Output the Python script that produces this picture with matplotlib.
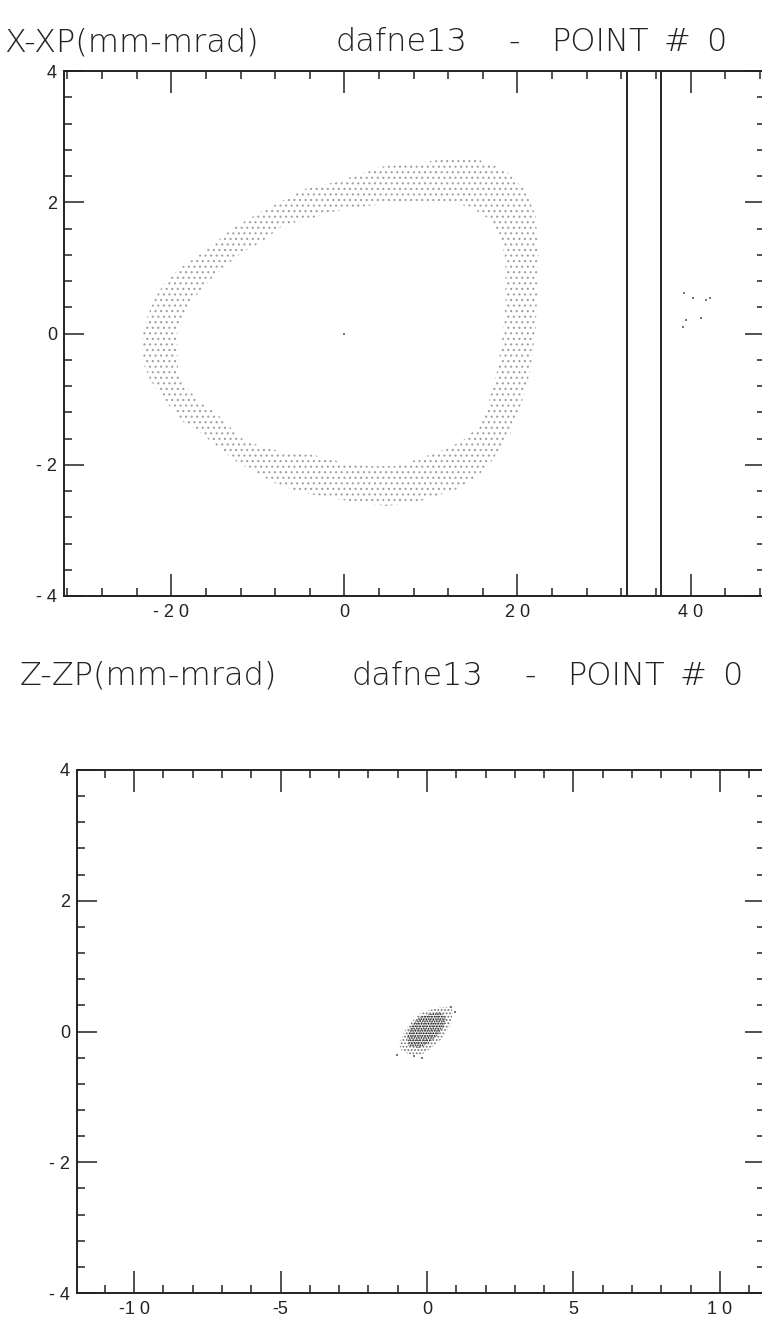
import matplotlib
matplotlib.use("Agg")
import matplotlib.pyplot as plt
from matplotlib.path import Path
from matplotlib.patches import PathPatch
from matplotlib.ticker import MultipleLocator

# ---- X-XP phase space: outer and inner edge of the tracked ring (mm, mrad) ----
ring_outer_x = [-23.35, -22.77, -21.85, -20.92, -18.96, -16.3, -12.83, -9.71, -7.63, -4.28,
                -1.62, 1.5, 4.16, 6.82, 9.02, 12.25, 15.72, 18.61, 20.92, 22.08,
                22.43, 22.31, 22.08, 21.5, 20.69, 19.19, 18.03, 16.88, 15.38, 12.83,
                9.13, 4.97, -0.12, -5.09, -8.21, -12.37, -14.68, -16.99, -18.96, -20.92,
                -22.43, -23.24]
ring_outer_xp = [0.05, 0.25, 0.55, 0.74, 1.0, 1.24, 1.61, 1.85, 1.99, 2.22,
                 2.29, 2.41, 2.54, 2.58, 2.61, 2.67, 2.64, 2.49, 2.18, 1.8,
                 1.27, 0.66, 0.05, -0.56, -0.97, -1.52, -1.75, -1.97, -2.18, -2.38,
                 -2.54, -2.63, -2.54, -2.42, -2.27, -1.96, -1.73, -1.47, -1.32, -0.98,
                 -0.71, -0.45]
ring_inner_x = [-19.31, -18.15, -16.65, -14.68, -13.18, -11.68, -9.71, -7.05, -3.58, -1.62,
                1.85, 5.32, 9.13, 12.25, 14.57, 16.88, 18.03, 18.61, 18.61, 18.38,
                18.03, 17.69, 16.88, 16.53, 15.38, 13.76, 11.91, 8.79, 6.13, 3.01,
                -0.12, -3.58, -6.59, -9.36, -11.68, -13.18, -15.14, -16.65, -18.96, -19.31]
ring_inner_xp = [0.05, 0.39, 0.66, 0.92, 1.09, 1.25, 1.38, 1.65, 1.76, 1.85,
                 1.93, 1.99, 2.0, 1.99, 1.93, 1.73, 1.5, 1.12, 0.51, 0.05,
                 -0.25, -0.56, -0.91, -1.17, -1.43, -1.62, -1.75, -1.9, -2.02, -2.02,
                 -1.97, -1.85, -1.82, -1.73, -1.62, -1.43, -1.17, -1.06, -0.71, -0.45]
# isolated particles (beyond the septum and the reference particle)
stray_x = [39.2, 40.3, 41.8, 42.3, 39.5, 41.2, 39.1, 0.0]
stray_xp = [0.62, 0.54, 0.51, 0.54, 0.20, 0.24, 0.10, 0.0]
septum_x = [32.7, 36.6]

# ---- Z-ZP phase space: beam outline and dense core (mm, mrad) ----
z_halo_z = [-0.95, -0.75, -0.55, -0.25, 0.10, 0.45, 0.80, 0.88, 0.82, 0.70,
            0.48, 0.12, -0.18, -0.62, -0.90]
z_halo_zp = [-0.18, 0.02, 0.14, 0.27, 0.33, 0.37, 0.38, 0.30, 0.12, 0.02,
             -0.12, -0.26, -0.35, -0.35, -0.27]
z_core_z = [-0.68, -0.55, -0.26, 0.10, 0.46, 0.64, 0.58, 0.35, 0.05, -0.26, -0.62]
z_core_zp = [-0.06, 0.08, 0.22, 0.27, 0.30, 0.21, 0.07, -0.06, -0.18, -0.25, -0.23]
z_out_z = [-1.03, 0.83, -0.18, 0.95, -0.45]
z_out_zp = [-0.36, 0.37, -0.40, 0.30, -0.38]

# ---- axes text ----
x_ticks_top = [-20, 0, 20, 40]
x_labels_top = ["- 2 0", "0", "2 0", "4 0"]
x_ticks_bot = [-10, -5, 0, 5, 10]
x_labels_bot = ["-1 0", "-5", "0", "5", "1 0"]
y_ticks = [-4, -2, 0, 2, 4]
y_labels = ["- 4", "- 2", "0", "2", "4"]
title_words_x = ["X-XP(mm-mrad)", "dafne13", "-", "POINT", "#", "0"]
title_words_z = ["Z-ZP(mm-mrad)", "dafne13", "-", "POINT", "#", "0"]
title_pos = [4, 335, 508, 551, 663, 706]   # left edge of each word, px

W, H = 762, 1322
plt.rcParams["hatch.linewidth"] = 0.8
fig = plt.figure(figsize=(W / 100, H / 100), dpi=100)


def band_path(ox, oy, ix=None, iy=None):
    verts = list(zip(ox, oy)) + [(ox[0], oy[0])]
    codes = [Path.MOVETO] + [Path.LINETO] * (len(ox) - 1) + [Path.CLOSEPOLY]
    if ix is not None:
        inner = list(zip(ix[::-1], iy[::-1]))
        verts += inner + [inner[0]]
        codes += [Path.MOVETO] + [Path.LINETO] * (len(inner) - 1) + [Path.CLOSEPOLY]
    return Path(verts, codes)


def style_axes(ax, xminor, xticks, xlabels):
    for sp in ax.spines.values():
        sp.set_linewidth(1.4)
        sp.set_color("#222222")
    ax.set_ylim(-4, 4)
    ax.set_xticks(xticks, labels=xlabels)
    ax.set_yticks(y_ticks, labels=y_labels)
    ax.xaxis.set_minor_locator(MultipleLocator(xminor))
    ax.yaxis.set_minor_locator(MultipleLocator(0.4))
    ax.tick_params(which="both", direction="in", top=True, right=True,
                   width=1.1, color="#222222", labelsize=13)
    ax.tick_params(axis="x", which="major", length=16, pad=6)
    ax.tick_params(axis="y", which="major", length=14.5, pad=5)
    ax.tick_params(which="minor", length=6)
    for lab in ax.get_xticklabels() + ax.get_yticklabels():
        lab.set_fontfamily("Liberation Sans")
        lab.set_color("#222222")


def put_title(words, dx, base_px):
    for w, px in zip(words, title_pos):
        fig.text((px + dx) / W, 1 - base_px / H, w, fontsize=23, fontweight="light",
                 family="DejaVu Sans", color="#222222", ha="left", va="baseline")


# ---- top panel: X-XP ----
ax1 = fig.add_axes([64 / W, 1 - 596 / H, 701 / W, 525 / H])
ax1.set_xlim(-32.4, 48.6)
ring = PathPatch(band_path(ring_outer_x, ring_outer_xp, ring_inner_x, ring_inner_xp),
                 facecolor="none", edgecolor="#a0a0a0", lw=0, hatch="...")
ax1.add_patch(ring)
ax1.scatter(stray_x, stray_xp, s=1.5, marker="s", color="#777777", lw=0)
for xs in septum_x:
    ax1.axvline(xs, color="black", lw=1.2)
style_axes(ax1, 4, x_ticks_top, x_labels_top)
put_title(title_words_x, 0, 51)

# ---- bottom panel: Z-ZP ----
ax2 = fig.add_axes([77 / W, 1 - 1293 / H, 688 / W, 523 / H])
ax2.set_xlim(-11.95, 11.54)
ax2.add_patch(PathPatch(band_path(z_halo_z, z_halo_zp), facecolor="none",
                        edgecolor="#666666", lw=0, hatch="....."))
ax2.add_patch(PathPatch(band_path(z_core_z, z_core_zp), facecolor="none",
                        edgecolor="#111111", lw=0, hatch="......."))
ax2.scatter(z_out_z, z_out_zp, s=1.5, marker="s", color="#777777", lw=0)
style_axes(ax2, 1, x_ticks_bot, x_labels_bot)
put_title(title_words_z, 16, 685)

fig.savefig("out.png", dpi=100, facecolor="white")
